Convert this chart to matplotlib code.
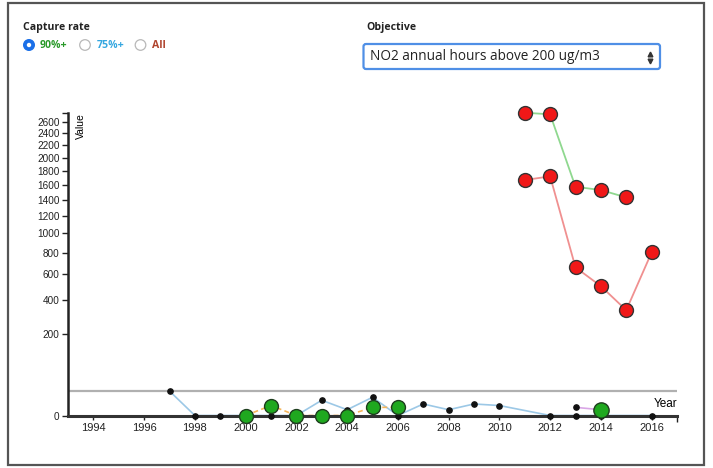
import numpy as np
import matplotlib
matplotlib.use("Agg")
import matplotlib.pyplot as plt
from matplotlib.patches import Rectangle, Circle, FancyBboxPatch

# ---- data (hours above 200 ug/m3) ----
years_hi = [2011, 2012, 2013, 2014, 2015]
values_hi = [2762, 2732, 1576, 1531, 1433]

years_mid = [2011, 2012, 2013, 2014, 2015, 2016]
values_mid = [1670, 1723, 661, 504, 334, 801]

years_small = [1997, 1998, 1999, 2000, 2001, 2002, 2003, 2004, 2005, 2006,
               2007, 2008, 2009, 2010, 2012, 2013, 2014, 2016]
values_small = [18, 0, 0, 0, 0, 0, 7, 1, 10, 0, 4, 1, 4, 3, 0, 0, 0, 0]

years_green = [2000, 2001, 2002, 2003, 2004, 2005, 2006]
values_green = [0, 3, 0, 0, 0, 2, 2]

years_brown = [2002, 2003, 2004]
values_brown = [0, 0, 0]

years_purple = [2013, 2014]
values_purple = [2, 1]

threshold = 18
y_ticks = list(range(0, 2601, 200))
x_ticks = list(range(1994, 2017, 2))

W, H = 713, 468
fig = plt.figure(figsize=(W / 100, H / 100), dpi=100)

# chart area in pixel terms -> figure fractions
ax_l, ax_r, ax_t, ax_b = 68, 677, 112.7, 415.5
ax = fig.add_axes([ax_l / W, 1 - ax_b / H, (ax_r - ax_l) / W, (ax_b - ax_t) / H])

ax.set_yscale("function", functions=(lambda v: np.sqrt(np.clip(v, 0, None)), np.square))
ax.set_xlim(1993, 2017)
ax.set_ylim(0, max(values_hi))

for s in ["top", "right"]:
    ax.spines[s].set_visible(False)
ax.spines["left"].set_linewidth(1.8)
ax.spines["bottom"].set_linewidth(2.2)
ax.spines["left"].set_color("#222")
ax.spines["bottom"].set_color("#333")

ax.axhline(threshold, color="#b0b0b0", lw=1.6, zorder=1)

# lines
ax.plot(years_small, values_small, color="#9cc8e6", lw=1.2, zorder=2, clip_on=False)
ax.plot(years_green, values_green, color="#f5b55a", lw=1.2, ls=(0, (3, 2)), zorder=2, clip_on=False)
ax.plot(years_brown, values_brown, color="#a0522d", lw=1.5, zorder=2, clip_on=False)
ax.plot(years_purple, values_purple, color="#d9a6e6", lw=1.2, zorder=2, clip_on=False)
ax.plot(years_hi, values_hi, color="#8fd88f", lw=1.3, zorder=2, clip_on=False)
ax.plot(years_mid, values_mid, color="#f09090", lw=1.3, zorder=2, clip_on=False)

# markers
ax.plot(years_small, values_small, ls="none", marker="o", ms=3.8, mfc="#111", mec="#111",
        zorder=3, clip_on=False)
ax.plot(years_purple[:1], values_purple[:1], ls="none", marker="o", ms=3.8, mfc="#111",
        mec="#111", zorder=3, clip_on=False)
ax.plot(years_green, values_green, ls="none", marker="o", ms=10, mfc="#1fa81f", mec="#1d3d1d",
        mew=1.0, zorder=4, clip_on=False)
ax.plot(years_purple[1:], values_purple[1:], ls="none", marker="o", ms=11, mfc="#1fa81f",
        mec="#1d3d1d", mew=1.0, zorder=4, clip_on=False)
ax.plot(years_hi, values_hi, ls="none", marker="o", ms=10, mfc="#f01818", mec="#333",
        mew=1.0, zorder=4, clip_on=False)
ax.plot(years_mid, values_mid, ls="none", marker="o", ms=10, mfc="#f01818", mec="#333",
        mew=1.0, zorder=4, clip_on=False)

chart_font = "Liberation Sans"
ax.set_yticks(y_ticks)
ax.set_yticklabels([str(v) for v in y_ticks], fontsize=7.2, family=chart_font)
ax.set_xticks(x_ticks)
ax.set_xticklabels([str(v) for v in x_ticks], fontsize=8, family=chart_font)
ax.tick_params(axis="y", direction="out", length=4.5, width=1, pad=1.5, colors="#222")
ax.tick_params(axis="x", direction="out", length=3, width=1, pad=2.5, colors="#222")
ax.yaxis.set_minor_locator(matplotlib.ticker.FixedLocator([max(values_hi)]))
ax.xaxis.set_minor_locator(matplotlib.ticker.FixedLocator([2017]))
ax.tick_params(which="minor", direction="out", length=4, width=1, colors="#222")

ax.text(1, 0.018, "Year", transform=ax.transAxes, ha="right", va="bottom",
        fontsize=8.5, family=chart_font)
ax.text(0.013, 1.0, "Value", transform=ax.transAxes, ha="left", va="top",
        rotation=90, fontsize=7.5, family=chart_font)

# ---- page controls drawn in pixel coordinates ----
ov = fig.add_axes([0, 0, 1, 1], zorder=-1)
ov.set_xlim(0, W)
ov.set_ylim(H, 0)
ov.axis("off")

ui_font = "Open Sans"
ov.add_patch(Rectangle((8, 3), 696, 462, fill=False, ec="#555", lw=1.6))

ov.text(23, 27.5, "Capture rate", fontsize=7.6, fontweight="bold", family=ui_font,
        va="center", ha="left", color="#222")
ov.add_patch(Circle((29, 45), 5.3, fc="#1a6fe8", ec="#1a6fe8"))
ov.add_patch(Circle((29, 45), 2.2, fc="white", ec="none"))
ov.text(39.5, 45, "90%+", fontsize=7.6, fontweight="bold", color="#2a9a2a",
        family=ui_font, va="center")
ov.add_patch(Circle((85, 45), 5.3, fc="white", ec="#b8b8b8", lw=0.9))
ov.text(96.5, 45, "75%+", fontsize=7.6, fontweight="bold", color="#35a7e0",
        family=ui_font, va="center")
ov.add_patch(Circle((140.5, 45), 5.3, fc="white", ec="#b8b8b8", lw=0.9))
ov.text(151.5, 45, "All", fontsize=7.6, fontweight="bold", color="#b0442e",
        family=ui_font, va="center")

ov.text(366, 27.5, "Objective", fontsize=7.6, fontweight="bold", family=ui_font,
        va="center", ha="left", color="#222")
ov.add_patch(FancyBboxPatch((363.5, 44), 296.5, 25, boxstyle="round,pad=0,rounding_size=2.5",
                            fc="white", ec="#4f8fe6", lw=1.6))
ov.text(370, 57, "NO2 annual hours above 200 ug/m3", fontsize=9.8, family=ui_font,
        va="center", ha="left", color="#222")
ov.plot([650], [53.5], marker="^", ms=3.4, color="#333", ls="none")
ov.plot([650], [60.5], marker="v", ms=3.4, color="#333", ls="none")

fig.savefig("out.png", dpi=100)
